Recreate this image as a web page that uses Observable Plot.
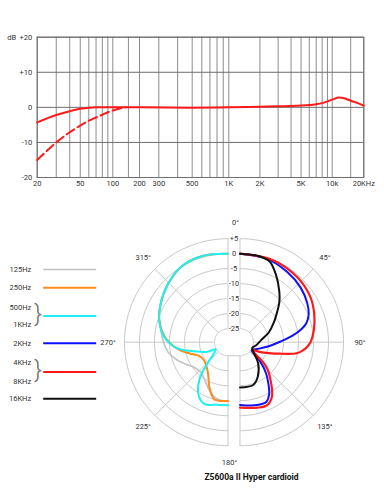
<!DOCTYPE html>
<html><head><meta charset="utf-8">
<script src="https://cdn.jsdelivr.net/npm/d3@7"></script>
<script src="https://cdn.jsdelivr.net/npm/@observablehq/plot@0.6"></script>
<style>
body{margin:0;background:#fff;}
#chart svg{display:block;}
</style></head><body><div id="chart"></div>
<script>
// ================= DATA =================
// Frequency response (Hz, dB)
const freqSolid = [20, 30, 40, 50, 60, 70, 100, 200, 500, 1000, 2000, 3000, 5000, 7000, 8000, 10000, 11600, 13000, 15000, 17500, 20000];
const dbSolid   = [-4.3, -2.2, -1.1, -0.4, -0.1, 0, 0, 0, -0.1, 0, 0.2, 0.3, 0.5, 0.9, 1.2, 2.2, 2.8, 2.6, 1.9, 1.2, 0.5];
const freqDashed = [20, 30, 40, 50, 60, 70, 80, 90, 100, 120, 140];
const dbDashed   = [-15, -10, -7.1, -5.2, -3.8, -2.9, -2.1, -1.4, -0.9, -0.3, 0];
const gridFreqs = [20,30,40,50,60,70,80,90,100,150,200,300,400,500,600,700,800,900,1000,2000,3000,4000,5000,6000,7000,8000,9000,10000,15000,20000];
const xTickValues = [20, 50, 100, 200, 300, 500, 1000, 2000, 5000, 10000, 20000];
const xTickLabels = ["20", "50", "100", "200", "300", "500", "1K", "2K", "5K", "10k", "20KHz"];
const yTickValues = [-20, -10, 0, 10, 20];
const yTickLabels = ["-20", "-10", "0", "+10", "+20"];

// Polar patterns: [angle in degrees, dB]
const polar125 = [[360,0],[344,0.5],[328,0.1],[313,-1.8],[298,-3.9],[289,-5.2],[280,-6.8],[270,-8],[261,-9.2],[252,-11.2],[243,-13.5],[233,-15.5],[222,-16],[212,-14.8],[204,-13],[198,-11.6],[192,-10.4],[186,-9.9],[180,-9.8]];
const polar250 = [[360,0],[344,0.5],[328,0.1],[313,-1.8],[298,-3.9],[289,-5.2],[277,-7.8],[268,-10.5],[260,-13.5],[252,-16.8],[244,-19],[232,-19.5],[220,-18.5],[212,-17],[203,-13.5],[197,-11],[193,-9.8],[186,-9.8],[180,-9.9]];
const polar500_1k = [[360,0],[344,0.5],[328,0.1],[313,-1.8],[298,-3.9],[284,-6.1],[273,-8.7],[263,-12.5],[255,-17.8],[245,-22],[240,-24.8],[224,-19.6],[218,-14.2],[209,-9.3],[201,-7.5],[190,-8.3],[180,-8.5]];
const polar2k = [[0,0],[18,-0.3],[34,-1.3],[48,-2.3],[60,-3.6],[68,-4.8],[74,-6.5],[78,-8.6],[83,-12],[89,-16],[98,-19.8],[112,-23.4],[124,-24.8],[133,-20.5],[140,-16],[146,-12.5],[151,-9.5],[156,-7.8],[165,-7.8],[180,-8.6]];
const polar4k_8k = [[0,0],[22,0],[41,-0.6],[57,-1.6],[69,-3],[81,-4.6],[90,-6],[94,-7.1],[98,-8.6],[101,-10.2],[106,-15.6],[116,-22],[122,-24.6],[133,-17.5],[143,-12.2],[150,-8.3],[157,-6.6],[165,-6.9],[180,-7.7]];
const polar16k = [[0,0],[12,-0.1],[20,-0.8],[28,-4],[38,-8.2],[45,-11],[51,-13.6],[60,-16.5],[71,-19.3],[85,-22.5],[101,-24],[115,-25],[126,-24],[139,-20.3],[153,-16.5],[163,-14.6],[180,-14.4]];

const seriesData   = [polar125, polar250, polar500_1k, polar2k, polar4k_8k, polar16k];
const seriesSides  = [-1, -1, -1, 1, 1, 1];
const seriesColors = ["#c2c2c2", "#ff8a1e", "#1ef0f0", "#1010ff", "#ff1a1a", "#111111"];
const seriesWidths = [1.6, 2, 2, 2, 2.2, 2];

const legendLabels = ["125Hz", "250Hz", "500Hz", "1KHz", "2KHz", "4KHz", "8KHz", "16KHz"];
const ringValues = [5, 0, -5, -10, -15, -20, -25];
const ringLabels = ["+5", "0", "-5", "-10", "-15", "-20", "-25"];
const angleValues = [0, 45, 90, 135, 180, 225, 270, 315];
const angleLabels = ["0°", "45°", "90°", "135°", "180°", "225°", "270°", "315°"];
const chartTitle = "Z5600a II Hyper cardioid";

// ================= LAYOUT =================
const W = 384;
const FONT = "Roboto, 'Liberation Sans', sans-serif";
const TXT = "#333";

// ---------- Top chart ----------
const solidRows = freqSolid.map((f, i) => ({f, db: dbSolid[i]}));
const dashRows = freqDashed.map((f, i) => ({f, db: dbDashed[i]}));
const xTickRows = xTickValues.map((v, i) => ({v, t: xTickLabels[i]}));
const yTickRows = yTickValues.map((v, i) => ({v, t: yTickLabels[i]}));

const topChart = Plot.plot({
  width: W, height: 200,
  marginLeft: 36.7, marginRight: 20.7, marginTop: 36.7, marginBottom: 23,
  style: {fontFamily: FONT, background: "#fff", display: "block", overflow: "visible"},
  x: {type: "log", domain: [20, 100, 200, 300, 500, 1000, 10000, 20000],
      range: [36.7, 112.3, 139, 158.3, 191.7, 228.3, 331.7, 363.3], axis: null},
  y: {domain: [-20, 20], axis: null},
  marks: [
    Plot.ruleX(gridFreqs, {stroke: "#8c8c8c", strokeWidth: 1}),
    Plot.ruleY(yTickValues, {stroke: "#6e6e6e", strokeWidth: 1}),
    Plot.frame({stroke: "#6e6e6e"}),
    Plot.text(xTickRows, {x: "v", text: "t", frameAnchor: "bottom", dy: 8.5, fontSize: 7.5, fill: TXT}),
    Plot.text(yTickRows, {y: "v", text: "t", frameAnchor: "left", dx: -5, textAnchor: "end", fontSize: 7.5, fill: TXT}),
    Plot.text(["dB"], {x: 20, y: 20, dx: -25.5, text: d => d, fontSize: 7.5, fill: TXT}),
    Plot.line(dashRows, {x: "f", y: "db", stroke: "#ff1a1a", strokeWidth: 2, strokeDasharray: "9,4", curve: "monotone-x"}),
    Plot.line(solidRows, {x: "f", y: "db", stroke: "#ff1a1a", strokeWidth: 2, curve: "monotone-x"})
  ]
});

// ---------- Polar chart ----------
const H2 = 302, CX = 233.5, CY = 141.7, K = 3;   // px per dB unit
const R0 = 29.5, GAP = 2, RMIN = -25, RMAX = 5, LABEL_R = 40;
const rOf = db => Math.max(db, RMIN) + R0;
const toXY = (side, theta, db) => {
  const r = rOf(db), a = theta * Math.PI / 180;
  return {x: side * GAP + r * Math.sin(a), y: r * Math.cos(a)};
};
const px2x = px => (px - CX) / K;
const py2y = py => (CY - py) / K;

// grid rings
const ringRows = [];
for (const v of ringValues) for (const side of [-1, 1]) {
  const start = side > 0 ? 0 : 180;
  for (let t = 0; t <= 180; t += 2) ringRows.push({key: v + "_" + side, ...toXY(side, start + t, v)});
}
// hole connectors across the central gap
const holeLinks = [1, -1].map(s => ({x1: -GAP, x2: GAP, y1: s * rOf(RMIN), y2: s * rOf(RMIN)}));
// radial spokes
const spokeRows = [45, 90, 135, 225, 270, 315].map(t => {
  const side = t < 180 ? 1 : -1;
  const a = toXY(side, t, RMIN), b = toXY(side, t, RMAX);
  return {x1: a.x, y1: a.y, x2: b.x, y2: b.y};
});
// gap edges
const edgeRows = [];
for (const side of [-1, 1]) for (const s of [1, -1])
  edgeRows.push({x1: side * GAP, x2: side * GAP, y1: s * rOf(RMIN), y2: s * rOf(RMAX)});

const ringLabelRows = ringValues.map((v, i) => ({x: 0, y: rOf(v), t: ringLabels[i]}));
const angleLabelRows = angleValues.map((t, i) => {
  const a = t * Math.PI / 180;
  const side = t === 0 ? 0.25 : t === 180 ? -0.75 : (t < 180 ? 1 : -1);
  return {x: side * GAP + LABEL_R * Math.sin(a), y: LABEL_R * Math.cos(a), t: angleLabels[i]};
});

const curveRows = [];
seriesData.forEach((arr, k) => arr.forEach(([t, db]) => curveRows.push({k, ...toXY(seriesSides[k], t, db)})));

// legend
const legendTextY = [269, 287.3, 306.7, 324.3, 342.7, 362.3, 380.7, 398.3].map(y => y - 200);
const legendLineY = [269, 287.3, 315.5, 342.7, 371.5, 398.3].map(y => y - 200);
const braceY = [315.5, 371.5].map(y => y - 200);
const legendTextRows = legendLabels.map((l, i) => ({x: px2x(30.7), y: py2y(legendTextY[i]), t: l}));
const legendLineRows = seriesColors.map((c, i) => ({x1: px2x(42.7), x2: px2x(95.7), y1: py2y(legendLineY[i]), y2: py2y(legendLineY[i]), c, w: seriesWidths[i]}));
const braceRows = braceY.map(y => ({x: px2x(37.5), y: py2y(y)}));

const polarChart = Plot.plot({
  width: W, height: H2,
  marginLeft: 0, marginRight: 0, marginTop: 0, marginBottom: 0,
  style: {fontFamily: FONT, background: "#fff", display: "block", overflow: "visible"},
  x: {domain: [-CX / K, (W - CX) / K], axis: null},
  y: {domain: [-(H2 - CY) / K, CY / K], axis: null},
  marks: [
    Plot.line(ringRows, {x: "x", y: "y", z: "key", stroke: "#c8c8c8", strokeWidth: 1}),
    Plot.link(holeLinks, {x1: "x1", y1: "y1", x2: "x2", y2: "y2", stroke: "#c8c8c8"}),
    Plot.link(spokeRows, {x1: "x1", y1: "y1", x2: "x2", y2: "y2", stroke: "#c8c8c8"}),
    Plot.link(edgeRows, {x1: "x1", y1: "y1", x2: "x2", y2: "y2", stroke: "#c8c8c8"}),
    Plot.text(ringLabelRows, {x: "x", y: "y", text: "t", fontSize: 7.5, fill: TXT, stroke: "white", strokeWidth: 2}),
    Plot.text(angleLabelRows, {x: "x", y: "y", text: "t", fontSize: 7.5, fill: TXT}),
    ...seriesData.map((_, k) => Plot.line(curveRows.filter(d => d.k === k), {
      x: "x", y: "y", stroke: seriesColors[k], strokeWidth: seriesWidths[k], curve: "catmull-rom"})),
    Plot.text(legendTextRows, {x: "x", y: "y", text: "t", fontSize: 7.5, fill: TXT, textAnchor: "end"}),
    Plot.link(legendLineRows, {x1: "x1", y1: "y1", x2: "x2", y2: "y2", stroke: "c", strokeWidth: "w"}),
    Plot.text(braceRows, {x: "x", y: "y", text: () => "}", fontSize: 23, fontWeight: 300, fill: "#666", dy: -1}),
    Plot.text([chartTitle], {x: px2x(251), y: py2y(277), text: d => d, fontSize: 8.5, fontWeight: "bold", fill: "#111"})
  ]
});

document.getElementById("chart").append(topChart, polarChart);
</script>
</body></html>
